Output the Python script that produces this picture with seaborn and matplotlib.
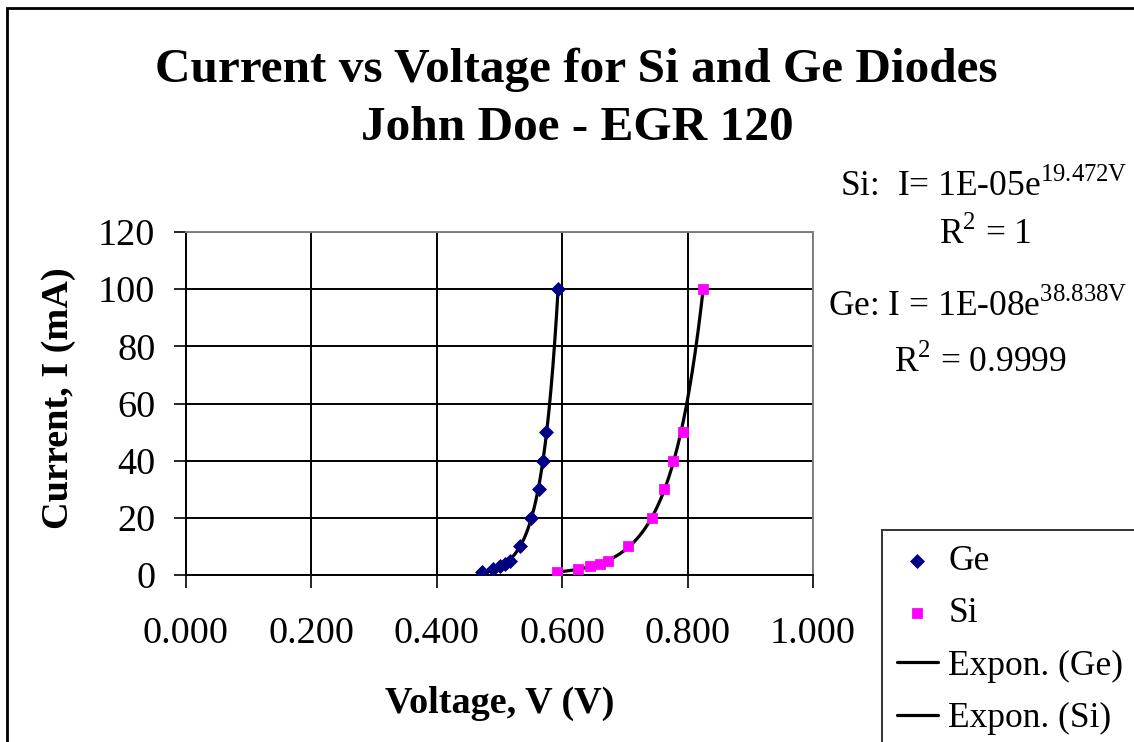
import numpy as np
import pandas as pd
import seaborn as sns
import matplotlib.pyplot as plt
from matplotlib.patches import Rectangle

# data (currents in mA, voltages in V)
ge_voltage = [0.472, 0.490, 0.501, 0.508, 0.516, 0.532, 0.551, 0.563, 0.570, 0.574, 0.593]
ge_current = [1, 2, 3, 4, 5, 10, 20, 30, 40, 50, 100]
si_voltage = [0.591, 0.625, 0.644, 0.660, 0.673, 0.705, 0.743, 0.762, 0.777, 0.792, 0.825]
si_current = [1, 2, 3, 4, 5, 10, 20, 30, 40, 50, 100]
x_ticks = [0.0, 0.2, 0.4, 0.6, 0.8, 1.0]
y_ticks = [0, 20, 40, 60, 80, 100, 120]

sns.set_style("white")
plt.rcParams['font.family'] = ['Liberation Serif', 'DejaVu Serif']
plt.rcParams['mathtext.fontset'] = 'custom'
plt.rcParams['mathtext.rm'] = 'Liberation Serif'
plt.rcParams['text.color'] = 'black'
plt.rcParams['axes.labelcolor'] = 'black'
FS = 27.5
SIDE_FS = 25.5
TITLE_FS = 35.5

df_ge = pd.DataFrame({'V': ge_voltage, 'I': ge_current})
df_si = pd.DataFrame({'V': si_voltage, 'I': si_current})


def expon_fit(df):
    # same as an Excel exponential trendline: linear fit of ln(I)
    b, ln_a = np.polyfit(df['V'], np.log(df['I']), 1)
    v = np.linspace(df['V'].min(), df['V'].max(), 200)
    return pd.DataFrame({'V': v, 'I': np.exp(ln_a) * np.exp(b * v)})


fig = plt.figure(figsize=(11.34, 7.42), dpi=100)
ax = fig.add_axes([186 / 1134, 1 - 575 / 742, (813 - 186) / 1134, (575 - 232) / 742])

sns.lineplot(data=expon_fit(df_ge), x='V', y='I', color='black', lw=2.3, ax=ax,
             label='Expon. (Ge)', zorder=3)
sns.lineplot(data=expon_fit(df_si), x='V', y='I', color='black', lw=2.3, ax=ax,
             label='Expon. (Si)', zorder=3)
sns.scatterplot(data=df_ge, x='V', y='I', marker='D', color='#000080', s=50,
                edgecolor='#000080', ax=ax, label='Ge', zorder=4)
sns.scatterplot(data=df_si, x='V', y='I', marker='s', color='#FF00FF', s=50,
                edgecolor='#FF00FF', ax=ax, label='Si', zorder=4)

ax.set_xlim(0, 1)
ax.set_ylim(0, 120)
ax.set_xticks(x_ticks)
ax.set_xticklabels([f"{t:.3f}" for t in x_ticks])
ax.set_yticks(y_ticks)
ax.grid(True, color='black', lw=1.4)
ax.tick_params(direction='out', length=9, width=1.2, labelsize=FS,
               colors='black', bottom=True, left=True)
ax.tick_params(axis='y', pad=13)
ax.tick_params(axis='x', pad=21)
for side in ['left', 'bottom']:
    ax.spines[side].set_color('black')
    ax.spines[side].set_linewidth(1.4)
for side in ['top', 'right']:
    ax.spines[side].set_color('#808080')
    ax.spines[side].set_linewidth(1.4)
ax.set_xlabel('')
ax.set_ylabel('')
ax.get_legend().remove()

fig.text(576 / 1134, 1 - 82 / 742, 'Current vs Voltage for Si and Ge Diodes',
         ha='center', va='baseline', fontsize=TITLE_FS, fontweight='bold')
fig.text(577 / 1134, 1 - 140 / 742, 'John Doe - EGR 120',
         ha='center', va='baseline', fontsize=TITLE_FS, fontweight='bold')
fig.text(500 / 1134, 1 - 713 / 742, 'Voltage, V (V)',
         ha='center', va='baseline', fontsize=FS, fontweight='bold')
fig.text(59 / 1134, 1 - 398 / 742, 'Current, I (mA)', rotation=90,
         ha='center', va='center', fontsize=FS, fontweight='bold')

# trendline equations
fig.text(840 / 1134, 1 - 196 / 742, r'Si:  I= 1E-05e$^{\mathrm{19.472V}}$',
         ha='left', va='baseline', fontsize=SIDE_FS)
fig.text(985 / 1134, 1 - 244 / 742, r'R$^{\mathrm{2}}$ = 1',
         ha='center', va='baseline', fontsize=SIDE_FS)
fig.text(828 / 1134, 1 - 316 / 742, r'Ge: I = 1E-08e$^{\mathrm{38.838V}}$',
         ha='left', va='baseline', fontsize=SIDE_FS)
fig.text(980 / 1134, 1 - 372 / 742, r'R$^{\mathrm{2}}$ = 0.9999',
         ha='center', va='baseline', fontsize=SIDE_FS)

handles, labels = ax.get_legend_handles_labels()
order = [labels.index(n) for n in ['Ge', 'Si', 'Expon. (Ge)', 'Expon. (Si)']]
leg = fig.legend([handles[i] for i in order], [labels[i] for i in order],
                 loc='upper left', bbox_to_anchor=(882 / 1134, 1 - 530 / 742),
                 fontsize=SIDE_FS, frameon=True, fancybox=False, edgecolor='black',
                 handlelength=1.15, handletextpad=0.3, borderpad=0.42,
                 labelspacing=0.55, borderaxespad=0)
leg.get_frame().set_linewidth(1.4)

# outer chart border (right and bottom edges fall outside the picture)
fig.add_artist(Rectangle((7 / 1134, -0.2), 1.2, 1.2 - 8 / 742,
                         transform=fig.transFigure, fill=False, ec='black',
                         lw=2, clip_on=False))

fig.savefig('out.png', dpi=100)
